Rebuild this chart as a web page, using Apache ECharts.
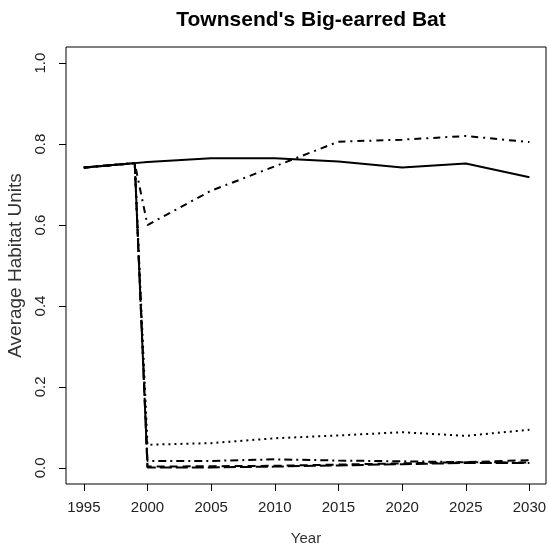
<!DOCTYPE html>
<html lang="en">
<head>
  <meta charset="UTF-8">
  <title>Townsend's Big-earred Bat</title>
  <script src="https://cdn.jsdelivr.net/npm/echarts@6/dist/echarts.min.js"></script>
  <style>
    html, body { margin: 0; padding: 0; background: #fff; }
    #chart { width: 549px; height: 547px; }
  </style>
</head>
<body>
  <div id="chart"></div>
  <script>
    // years where the scenarios have values
    const years = [1995, 1999, 2000, 2005, 2010, 2015, 2020, 2025, 2030];
    const xTicks = [1995, 2000, 2005, 2010, 2015, 2020, 2025, 2030];
    const yTicks = [0, 0.2, 0.4, 0.6, 0.8, 1.0];

    // one array per scenario
    const solidVals    = [0.742, 0.753, 0.756, 0.765, 0.765, 0.757, 0.742, 0.752, 0.718];
    const twodashVals  = [0.742, 0.753, 0.600, 0.685, 0.745, 0.806, 0.811, 0.820, 0.805];
    const dottedVals   = [0.742, 0.753, 0.057, 0.061, 0.073, 0.080, 0.088, 0.079, 0.094];
    const dotdashVals  = [0.742, 0.753, 0.017, 0.017, 0.021, 0.018, 0.016, 0.014, 0.013];
    const dashedVals   = [0.742, 0.753, 0.003, 0.004, 0.005, 0.008, 0.011, 0.014, 0.019];
    const longdashVals = [0.742, 0.753, 0.001, 0.001, 0.003, 0.006, 0.009, 0.012, 0.012];

    function pairs(vals) {
      return years.map((y, i) => [y, vals[i]]);
    }

    function line(name, vals, dash) {
      return {
        name: name,
        type: 'line',
        data: pairs(vals),
        symbol: 'none',
        clip: false,
        lineStyle: { color: '#000', width: 2, type: dash }
      };
    }

    const chart = echarts.init(document.getElementById('chart'));

    const option = {
      animation: false,
      backgroundColor: '#fff',
      textStyle: { fontFamily: 'Liberation Sans, Arial, sans-serif' },
      title: {
        text: "Townsend's Big-earred Bat",
        left: 306,
        top: 5,
        textAlign: 'center',
        textStyle: { fontSize: 21, fontWeight: 'bold', color: '#000' }
      },
      grid: {
        left: 66, right: 3, top: 47, bottom: 63,
        outerBoundsMode: 'none',
        containLabel: false,
        show: true, borderColor: '#000', borderWidth: 1, backgroundColor: 'transparent'
      },
      xAxis: {
        type: 'value',
        min: 1993.6,
        max: 2031.3,
        name: 'Year',
        nameLocation: 'middle',
        nameGap: 47,
        nameTextStyle: { fontSize: 15, color: '#333' },
        splitLine: { show: false },
        axisLine: { show: false, onZero: false },
        axisTick: { show: true, length: 7, lineStyle: { color: '#000' }, customValues: xTicks },
        axisLabel: {
          fontSize: 15, color: '#222', margin: 16,
          customValues: xTicks,
          formatter: v => String(v)
        }
      },
      yAxis: {
        type: 'value',
        min: -0.04,
        max: 1.04,
        name: 'Average Habitat Units',
        nameLocation: 'middle',
        nameGap: 33,
        nameTextStyle: { fontSize: 19, color: '#333' },
        splitLine: { show: false },
        axisLine: { show: false, onZero: false },
        axisTick: { show: true, length: 7, lineStyle: { color: '#000' }, customValues: yTicks },
        axisLabel: {
          fontSize: 15, color: '#222', rotate: 90, margin: 18,
          customValues: yTicks,
          formatter: v => v.toFixed(1)
        }
      },
      series: [
        line('solid', solidVals, 'solid'),
        line('twodash', twodashVals, [7, 5, 2, 5]),
        line('dotted', dottedVals, [2, 4]),
        line('dotdash', dotdashVals, [8, 4, 2, 4]),
        line('dashed', dashedVals, [8, 5]),
        line('longdash', longdashVals, [12, 4])
      ]
    };

    chart.setOption(option);
  </script>
</body>
</html>
